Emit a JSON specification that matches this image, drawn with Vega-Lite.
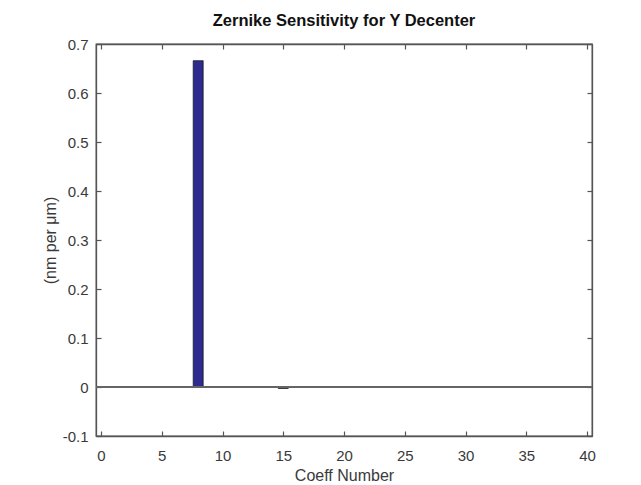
{
  "$schema": "https://vega.github.io/schema/vega-lite/v6.json",
  "autosize": {"type": "none"},
  "width": 496,
  "height": 392,
  "padding": {"left": 96, "top": 44, "right": 49, "bottom": 49},
  "background": "white",
  "title": {"text": "Zernike Sensitivity for Y Decenter", "fontSize": 16.5, "font": "Liberation Sans", "fontWeight": "bold", "color": "#111111", "offset": 8, "anchor": "middle"},
  "config": {
    "view": {"stroke": "#555555", "strokeWidth": 1.3},
    "axis": {"labelFont": "Liberation Sans", "titleFont": "Liberation Sans", "labelFontSize": 15, "titleFontSize": 16, "labelColor": "#3a3a3a", "titleColor": "#3a3a3a", "titleFontWeight": "normal", "domainColor": "#555555", "domainWidth": 1.3, "tickColor": "#555555", "tickWidth": 1.2, "grid": false}
  },
  "data": {"values": [
    {"coeff": 1, "value": 0}, {"coeff": 2, "value": 0}, {"coeff": 3, "value": 0}, {"coeff": 4, "value": 0},
    {"coeff": 5, "value": 0}, {"coeff": 6, "value": 0}, {"coeff": 7, "value": 0}, {"coeff": 8, "value": 0.666},
    {"coeff": 9, "value": 0}, {"coeff": 10, "value": 0}, {"coeff": 11, "value": 0}, {"coeff": 12, "value": 0},
    {"coeff": 13, "value": 0}, {"coeff": 14, "value": 0}, {"coeff": 15, "value": -0.003}, {"coeff": 16, "value": 0},
    {"coeff": 17, "value": 0}, {"coeff": 18, "value": 0}, {"coeff": 19, "value": 0}, {"coeff": 20, "value": 0},
    {"coeff": 21, "value": 0}, {"coeff": 22, "value": 0}, {"coeff": 23, "value": 0}, {"coeff": 24, "value": 0},
    {"coeff": 25, "value": 0}, {"coeff": 26, "value": 0}, {"coeff": 27, "value": 0}, {"coeff": 28, "value": 0},
    {"coeff": 29, "value": 0}, {"coeff": 30, "value": 0}, {"coeff": 31, "value": 0}, {"coeff": 32, "value": 0},
    {"coeff": 33, "value": 0}, {"coeff": 34, "value": 0}, {"coeff": 35, "value": 0}, {"coeff": 36, "value": 0},
    {"coeff": 37, "value": 0}
  ]},
  "layer": [
    {
      "mark": {"type": "bar", "width": 10, "fill": "#2D2B8E", "stroke": "#111111", "strokeWidth": 0.7},
      "encoding": {
        "x": {"field": "coeff", "type": "quantitative", "scale": {"domain": [0, 40], "nice": false, "zero": false},
              "axis": {"orient": "bottom", "title": "Coeff Number", "values": [0,5,10,15,20,25,30,35,40], "tickSize": -5, "labelPadding": 17, "titlePadding": 4, "labelFlush": false}},
        "y": {"field": "value", "type": "quantitative", "scale": {"domain": [-0.1, 0.7], "nice": false, "zero": false},
              "axis": {"orient": "left", "title": "(nm per μm)", "values": [-0.1,0,0.1,0.2,0.3,0.4,0.5,0.6,0.7], "tickSize": -5, "labelPadding": 13, "titlePadding": 4, "labelFlush": false,
                       "labelExpr": "replace(format(datum.value, '~g'), '−', '-')"}}
      }
    },
    {
      "mark": {"type": "rule", "color": "#666666", "strokeWidth": 1.3},
      "encoding": {
        "y": {"datum": 0, "type": "quantitative", "axis": null}
      }
    },
    {
      "mark": {"type": "point", "opacity": 0},
      "encoding": {
        "x": {"field": "coeff", "type": "quantitative",
              "axis": {"orient": "top", "title": null, "labels": false, "values": [0,5,10,15,20,25,30,35,40], "tickSize": -5}},
        "y": {"field": "value", "type": "quantitative",
              "axis": {"orient": "right", "title": null, "labels": false, "values": [-0.1,0,0.1,0.2,0.3,0.4,0.5,0.6,0.7], "tickSize": -5}}
      }
    }
  ],
  "resolve": {"axis": {"x": "independent", "y": "independent"}}
}
